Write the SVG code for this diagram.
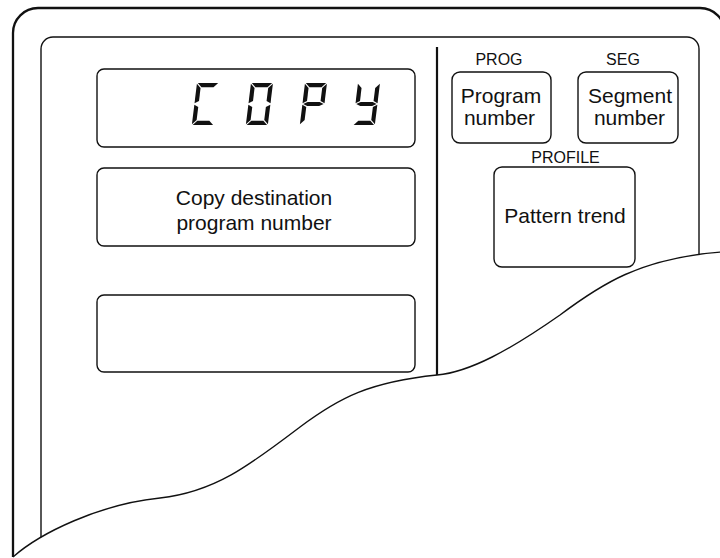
<svg xmlns="http://www.w3.org/2000/svg" width="720" height="558" viewBox="0 0 720 558">
  <style>
    .box { fill: #ffffff; stroke: #111111; stroke-width: 1.4; }
    .frame-outer { fill: none; stroke: #111111; stroke-width: 2.3; }
    .frame-inner { fill: none; stroke: #111111; stroke-width: 1.4; }
    .tear { fill: none; stroke: #111111; stroke-width: 1.4; }
    .txt { font-family: "Liberation Sans", Arial, Helvetica, sans-serif; font-size: 21px; fill: #111111; text-anchor: middle; }
    .lbl { font-family: "Liberation Sans", Arial, Helvetica, sans-serif; font-size: 16px; fill: #111111; text-anchor: middle; }
    .seg { fill: #111111; }
  </style>
  <defs>
    <polygon id="sa" class="seg" points="0.8,0 21.2,0 17,4.2 5,4.2"/>
    <polygon id="sd" class="seg" points="0.8,42 21.2,42 17,37.8 5,37.8"/>
    <polygon id="sg" class="seg" points="0.8,21 5,18.9 17,18.9 21.2,21 17,23.1 5,23.1"/>
    <polygon id="sf" class="seg" points="0,0.8 4.2,5 4.2,18.1 0,20.2"/>
    <polygon id="se" class="seg" points="0,21.8 4.2,23.9 4.2,37 0,41.2"/>
    <polygon id="sb" class="seg" points="22,0.8 17.8,5 17.8,18.1 22,20.2"/>
    <polygon id="sc" class="seg" points="22,21.8 17.8,23.9 17.8,37 22,41.2"/>
  </defs>

  <rect x="0" y="0" width="720" height="558" fill="#ffffff"/>

  <g id="frame">
    <path class="frame-outer" d="M13,558 L13,33 A25,25 0 0 1 38,8 L700,8 A25,25 0 0 1 725,33 L725,558"/>
    <path class="frame-inner" d="M41,540 L41,49 A12,12 0 0 1 53,37 L687,37 A12,12 0 0 1 699,49 L699,258"/>
    <line x1="437" y1="47" x2="437" y2="377" stroke="#111111" stroke-width="2.2"/>
  </g>

  <g id="display-copy">
    <rect class="box" x="97" y="69" width="318" height="78" rx="7"/>
    <g transform="translate(197,83) skewX(-7)">
      <use href="#sa"/><use href="#sf"/><use href="#se"/><use href="#sd"/>
    </g>
    <g transform="translate(251,83) skewX(-7)">
      <use href="#sa"/><use href="#sb"/><use href="#sc"/><use href="#sd"/><use href="#se"/><use href="#sf"/>
    </g>
    <g transform="translate(305,83) skewX(-7)">
      <use href="#sa"/><use href="#sb"/><use href="#sf"/><use href="#sg"/><use href="#se"/>
    </g>
    <g transform="translate(358,83) skewX(-7)">
      <use href="#sb"/><use href="#sc"/><use href="#sd"/><use href="#sf"/><use href="#sg"/>
    </g>
  </g>

  <g id="copy-destination">
    <rect class="box" x="97" y="168" width="318" height="78" rx="7"/>
    <text class="txt" x="254" y="205">Copy destination</text>
    <text class="txt" x="254" y="230">program number</text>
  </g>

  <g id="blank-display">
    <rect class="box" x="97" y="295" width="318" height="77" rx="7"/>
  </g>

  <g id="prog">
    <text class="lbl" x="499" y="65">PROG</text>
    <rect class="box" x="452" y="72" width="99" height="71" rx="8"/>
    <text class="txt" x="501" y="103">Program</text>
    <text class="txt" x="499.5" y="125">number</text>
  </g>

  <g id="seg">
    <text class="lbl" x="623" y="65">SEG</text>
    <rect class="box" x="578" y="72" width="100" height="71" rx="8"/>
    <text class="txt" x="630" y="103">Segment</text>
    <text class="txt" x="629.5" y="125">number</text>
  </g>

  <g id="profile">
    <text class="lbl" x="565.5" y="163">PROFILE</text>
    <rect class="box" x="494" y="167" width="141" height="100" rx="8"/>
    <text class="txt" x="565" y="223">Pattern trend</text>
  </g>

  <g id="connectors"></g>

  <g id="tear">
    <path fill="#ffffff" stroke="none" d="M13,557 C40,533 100,504 160,498 C215,492 250,465 300,427 C340,397 370,382 437,375 C470,372 510,350 560,315 C600,285 640,258 722,252 L722,560 L0,560 L0,557 Z"/>
    <path class="tear" d="M13,557 C40,533 100,504 160,498 C215,492 250,465 300,427 C340,397 370,382 437,375 C470,372 510,350 560,315 C600,285 640,258 722,252"/>
  </g>
</svg>
